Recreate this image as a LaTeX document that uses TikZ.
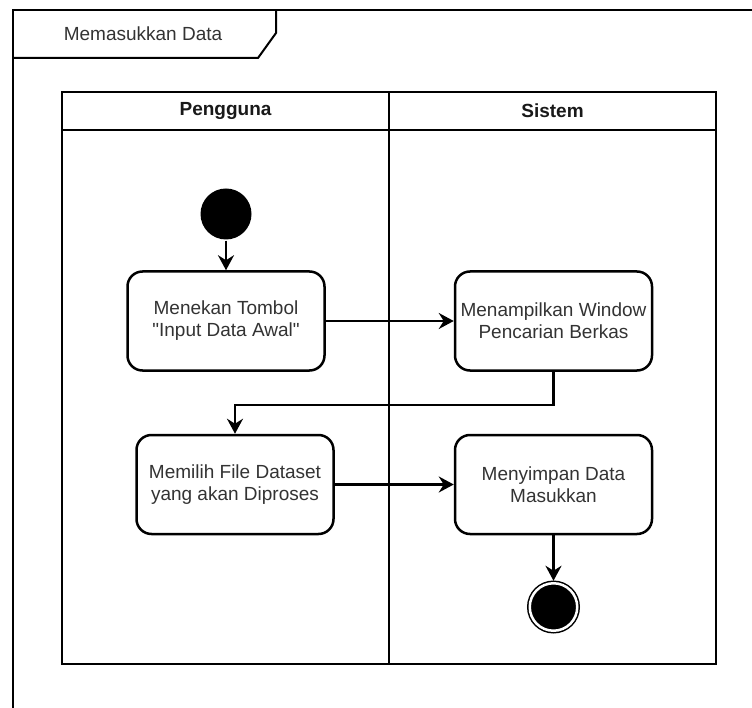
\documentclass[tikz,border=0pt]{standalone}
\usepackage{fontspec}
\setmainfont{Liberation Sans}[Ligatures=TeXOff]
\usetikzlibrary{arrows.meta}

\begin{document}
\begin{tikzpicture}[x=1pt, y=-1pt, >={Stealth[length=15pt,width=16pt,inset=5pt]},
		font=\fontsize{19}{22}\selectfont, line width=2.5pt,
		act/.style={draw, rounded corners=15pt, align=center, text=black!80,
			minimum width=197pt, minimum height=99pt, inner sep=2pt},
		startnode/.style={circle, fill=black, minimum size=51pt, inner sep=0pt},
		endnode/.style={circle, draw, fill=black, line width=1.5pt, double=white,
			double distance=2.5pt, minimum size=47.5pt, inner sep=0pt, outer sep=2.5pt},
		lanehead/.style={font=\fontsize{19}{22}\selectfont\bfseries, text=black!90}]
		\useasboundingbox (0,0) rectangle (752,708);
		\fill[white] (0,0) rectangle (752,708);
		% frame with its name tag
		\draw[line width=2pt] (752,10) -- (13,10) -- (13,708);
		\draw[line width=2pt] (13,58) -- (258,58) -- (276,33) -- (276,10);
		\node[text=black!80] (frametag) at (143,34) {Memasukkan Data};
		% swimlanes
		\draw (62,92) rectangle (716,664);
		\draw (62,130) -- (716,130);
		\draw (389,92) -- (389,664);
		\node[lanehead] (pengguna) at (225.5,111) {Pengguna};
		\node[lanehead] (sistem) at (552.5,111) {Sistem};
		% activities
		\node[startnode] (start) at (226,214) {};
		\node[act] (tombol) at (226,321) {Menekan Tombol\\"Input Data Awal"};
		\node[act] (window) at (553.5,321) {Menampilkan Window\\Pencarian Berkas};
		\node[act] (pilih) at (235,484.5) {Memilih File Dataset\\yang akan Diproses};
		\node[act] (simpan) at (553.5,484.5) {Menyimpan Data\\Masukkan};
		\node[endnode] (end) at (553.5,607) {};
		% flow
		\draw[->] (start) -- (tombol);
		\draw[->] (tombol) -- (window);
		\draw[->] (window.south) -- ++(0,33) -| (pilih.north);
		\draw[->] (pilih) -- (simpan);
		\draw[->] (simpan) -- (end);
	\end{tikzpicture}
\end{document}
